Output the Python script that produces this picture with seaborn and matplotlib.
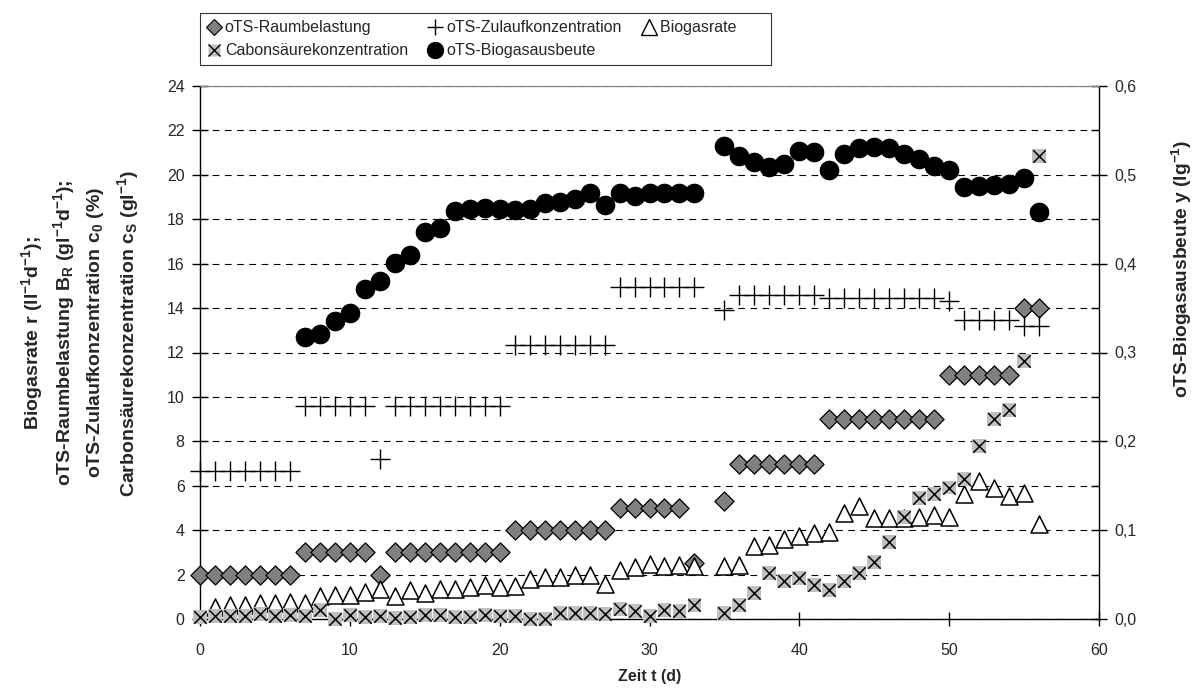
import numpy as np
import pandas as pd
import matplotlib
matplotlib.use("Agg")
import matplotlib.pyplot as plt
from matplotlib.lines import Line2D
import seaborn as sns

nan = np.nan

# Days of measurement (day 34 missing)
days = [0, 1, 2, 3, 4, 5, 6, 7, 8, 9, 10, 11, 12, 13, 14, 15, 16, 17, 18, 19,
        20, 21, 22, 23, 24, 25, 26, 27, 28, 29, 30, 31, 32, 33,
        35, 36, 37, 38, 39, 40, 41, 42, 43, 44, 45, 46, 47, 48, 49, 50,
        51, 52, 53, 54, 55, 56]

# oTS-Raumbelastung (g/l/d)
raumbelastung = [2, 2, 2, 2, 2, 2, 2, 3, 3, 3, 3, 3, 2, 3, 3, 3, 3, 3, 3, 3,
                 3, 4, 4, 4, 4, 4, 4, 4, 5, 5, 5, 5, 5, 2.5,
                 5.3, 7, 7, 7, 7, 7, 7, 9, 9, 9, 9, 9, 9, 9, 9, 11,
                 11, 11, 11, 11, 14, 14]

# oTS-Zulaufkonzentration (%)
zulauf = [6.65, 6.65, 6.65, 6.65, 6.65, 6.65, 6.65, 9.6, 9.6, 9.6, 9.6, 9.6, 7.2,
          9.6, 9.6, 9.6, 9.6, 9.6, 9.6, 9.6, 9.6,
          12.35, 12.35, 12.35, 12.35, 12.35, 12.35, 12.35,
          14.95, 14.95, 14.95, 14.95, 14.95, 14.95,
          13.9, 14.6, 14.6, 14.6, 14.6, 14.6, 14.6,
          14.45, 14.45, 14.45, 14.45, 14.45, 14.45, 14.45, 14.45, 14.3,
          13.45, 13.45, 13.45, 13.45, 13.2, 13.2]

# Biogasrate (l/l/d)
biogasrate = [nan, 0.55, 0.63, 0.63, 0.7, 0.7, 0.78, 0.7, 1.02, 1.1, 1.1, 1.23, 1.36,
              1.04, 1.31, 1.19, 1.35, 1.35, 1.46, 1.52, 1.43, 1.47, 1.79, 1.91, 1.88,
              2.0, 2.0, 1.58, 2.2, 2.36, 2.48, 2.39, 2.42, 2.4,
              2.4, 2.45, 3.3, 3.35, 3.58, 3.75, 3.85, 3.9, 4.78, 5.08, 4.56, 4.56,
              4.56, 4.6, 4.67, 4.6, 5.62, 6.22, 5.92, 5.53, 5.66, 4.29]

# Carbonsäurekonzentration (g/l)
carbonsaeure = [0.1, 0.13, 0.13, 0.15, 0.22, 0.13, 0.18, 0.13, 0.4, 0.0, 0.18, 0.1,
                0.13, 0.05, 0.1, 0.18, 0.18, 0.1, 0.1, 0.18, 0.13, 0.13, 0.0, 0.0,
                0.29, 0.29, 0.29, 0.22, 0.44, 0.38, 0.14, 0.41, 0.38, 0.63,
                0.26, 0.63, 1.19, 2.09, 1.7, 1.83, 1.53, 1.31, 1.71, 2.09, 2.58,
                3.45, 4.58, 5.44, 5.62, 5.92, 6.29, 7.79, 9.0, 9.41, 11.62, 20.86]

# oTS-Biogasausbeute (l/g) - right axis
ausbeute = [nan, nan, nan, nan, nan, nan, nan, 0.318, 0.321, 0.336, 0.344, 0.371,
            0.380, 0.401, 0.41, 0.436, 0.44, 0.459, 0.462, 0.463, 0.461, 0.46,
            0.462, 0.468, 0.469, 0.473, 0.479, 0.466, 0.479, 0.476, 0.479, 0.479,
            0.48, 0.48,
            0.532, 0.521, 0.515, 0.509, 0.512, 0.527, 0.526, 0.506, 0.524, 0.53,
            0.531, 0.53, 0.523, 0.518, 0.51, 0.505, 0.486, 0.487, 0.489, 0.49,
            0.496, 0.458]

left_ticks = [0, 2, 4, 6, 8, 10, 12, 14, 16, 18, 20, 22, 24]
right_ticks = [0.0, 0.1, 0.2, 0.3, 0.4, 0.5, 0.6]
right_ticklabels = ["0,0", "0,1", "0,2", "0,3", "0,4", "0,5", "0,6"]
x_ticks = [0, 10, 20, 30, 40, 50, 60]

sns.set_style("white")
plt.rcParams["font.family"] = ["Liberation Sans", "DejaVu Sans"]
plt.rcParams["mathtext.fontset"] = "custom"
plt.rcParams["mathtext.rm"] = "Liberation Sans"
plt.rcParams["mathtext.bf"] = "Liberation Sans:bold"
plt.rcParams["mathtext.it"] = "Liberation Sans:italic"
plt.rcParams["mathtext.default"] = "bf"

W, H = 1193, 696
fig = plt.figure(figsize=(W / 100, H / 100), dpi=100)
L, R, T, B = 200, 1099, 86, 619
ax = fig.add_axes([L / W, 1 - B / H, (R - L) / W, (B - T) / H])

df = pd.DataFrame({"t": days, "raum": raumbelastung, "zul": zulauf,
                   "rate": biogasrate, "cs": carbonsaeure, "y": ausbeute})

sns.scatterplot(data=df, x="t", y="raum", ax=ax, marker="D", s=95,
                color="#808080", edgecolor="black", linewidth=0.9,
                legend=False, clip_on=False, zorder=3)
sns.scatterplot(data=df, x="t", y="zul", ax=ax, marker="+", s=200,
                color="black", linewidth=1.0, legend=False, clip_on=False, zorder=4)
sns.scatterplot(data=df, x="t", y="rate", ax=ax, marker="^", s=150,
                color="white", edgecolor="black", linewidth=1.1,
                legend=False, clip_on=False, zorder=5)
sns.scatterplot(data=df, x="t", y="cs", ax=ax, marker="s", s=100,
                color="#c0c0c0", edgecolor="none", linewidth=0,
                legend=False, clip_on=False, zorder=6)
sns.scatterplot(data=df, x="t", y="cs", ax=ax, marker="x", s=80,
                color="black", linewidth=1.1, legend=False, clip_on=False, zorder=7)

ax.set_xlim(0, 60)
ax.set_ylim(0, 24)
ax.set_xticks(x_ticks)
ax.set_yticks(left_ticks)
ax.set_xlabel("")
ax.set_ylabel("")
ax.yaxis.grid(True, linestyle=(0, (6, 5)), color="black", linewidth=0.8)
ax.xaxis.grid(False)
ax.set_axisbelow(True)
for s in ["left", "bottom"]:
    ax.spines[s].set_color("black")
    ax.spines[s].set_linewidth(1.0)
ax.spines["top"].set_color("#808080")
ax.spines["top"].set_linewidth(0.8)
ax.spines["right"].set_visible(False)
ax.tick_params(axis="y", which="major", direction="inout", length=12, width=1,
               labelsize=11.5, pad=5, left=True, right=False, color="black")
ax.tick_params(axis="x", which="major", direction="inout", length=10, width=1,
               labelsize=11.5, pad=12, bottom=True, top=False, color="black")

ax2 = ax.twinx()
sns.scatterplot(data=df, x="t", y="y", ax=ax2, marker="o", s=200,
                color="black", edgecolor="black", linewidth=0,
                legend=False, clip_on=False, zorder=8)
ax2.set_ylim(0, 0.6)
ax2.set_xlim(0, 60)
ax2.set_ylabel("")
ax2.set_yticks(right_ticks)
ax2.set_yticklabels(right_ticklabels)
ax2.set_yticks([0.05, 0.15, 0.25, 0.35, 0.45, 0.55], minor=True)
ax2.grid(False)
ax2.spines["left"].set_visible(False)
ax2.spines["bottom"].set_visible(False)
ax2.spines["top"].set_color("#808080")
ax2.spines["top"].set_linewidth(0.8)
ax2.spines["right"].set_color("black")
ax2.spines["right"].set_linewidth(1.0)
ax2.tick_params(axis="y", which="major", direction="inout", length=12, width=1,
                labelsize=11.5, pad=5, right=True, left=False, color="black")
ax2.tick_params(axis="y", which="minor", direction="in", length=6, width=1,
                right=True, left=False, color="black")

# Axis labels
left_lines = [r"Biogasrate r (ll$^{-1}$d$^{-1}$);",
              r"oTS-Raumbelastung B$_{R}$ (gl$^{-1}$d$^{-1}$);",
              r"oTS-Zulaufkonzentration c$_{0}$ (%)",
              r"Carbonsäurekonzentration c$_{S}$ (gl$^{-1}$)"]
for xpx, txt in zip([32, 64, 96, 128], left_lines):
    fig.text(xpx / W, 1 - 333 / H, txt, rotation=90, ha="center", va="center",
             fontsize=14, fontweight="bold")
fig.text(1182 / W, 1 - 269 / H, r"oTS-Biogasausbeute y (lg$^{-1}$)", rotation=90,
         ha="center", va="center", fontsize=13.8, fontweight="bold")
fig.text((L + R) / 2 / W, 1 - 676 / H, "Zeit t (d)", ha="center", va="center",
         fontsize=11.5, fontweight="bold")

# Legend
h_raum = Line2D([], [], ls="none", marker="D", ms=8.5, mfc="#808080", mec="black", mew=0.8)
h_zul = Line2D([], [], ls="none", marker="+", ms=12, color="black", mew=1.0)
h_rate = Line2D([], [], ls="none", marker="^", ms=11, mfc="white", mec="black", mew=1.0)
h_cs = (Line2D([], [], ls="none", marker="s", ms=9, mfc="#c0c0c0", mec="none"),
        Line2D([], [], ls="none", marker="x", ms=8, color="black", mew=1.0))
h_y = Line2D([], [], ls="none", marker="o", ms=11.5, color="black")
handles = [h_raum, h_cs, h_zul, h_y, h_rate]
labels = ["oTS-Raumbelastung", "Cabonsäurekonzentration", "oTS-Zulaufkonzentration",
          "oTS-Biogasausbeute", "Biogasrate" + "\u00a0" * 6]
leg = fig.legend(handles, labels, ncol=3, loc="upper left",
                 bbox_to_anchor=(200 / W, 1 - 13 / H), frameon=True,
                 fancybox=False, edgecolor="black", fontsize=11.5,
                 handlelength=0.8, handletextpad=0.3, columnspacing=1.3,
                 borderpad=0.45, labelspacing=0.5, borderaxespad=0)
leg.get_frame().set_linewidth(0.8)

fig.savefig("out.png", dpi=100)
